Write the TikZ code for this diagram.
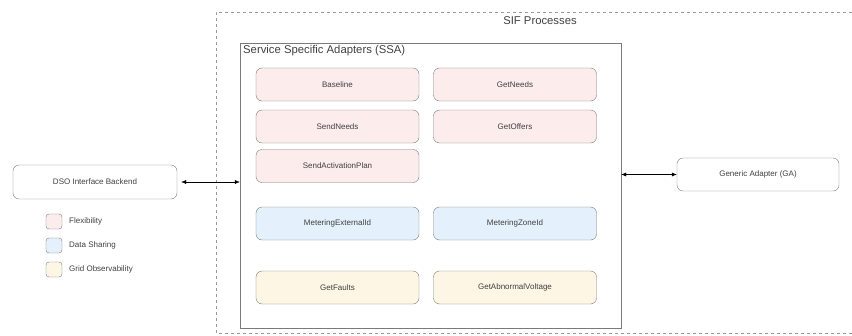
\documentclass[tikz,border=0pt]{standalone}
\usepackage{fontspec}
\setmainfont{Liberation Sans}
\usepackage{tikz}
\usetikzlibrary{positioning, calc}
\usetikzlibrary{arrows.meta}
\definecolor{fxfill}{HTML}{FDECEC}
\definecolor{dsfill}{HTML}{E4F0FB}
\definecolor{gofill}{HTML}{FDF6E4}
\definecolor{lnGray}{HTML}{7A7A7A}
\definecolor{txGray}{HTML}{404040}

\begin{document}
\begin{tikzpicture}[x=1pt,y=-1pt,draw=lnGray,text=txGray]
	\def \colleft{337.5}
	\def \colright{515}
	\def \rowone{84.5}
	\def \rowtwo{126.5}
	\def \rowthree{166}
	\def \rowfour{223.5}
	\def \rowfive{287.5}
	\tikzstyle{ad-node}=[rounded corners=6pt,draw=lnGray,thin,minimum width=163pt,minimum height=33pt,font=\fontsize{8}{9}\selectfont,text centered]
	\tikzstyle{fx-node}=[ad-node,fill=fxfill]
	\tikzstyle{ds-node}=[ad-node,fill=dsfill]
	\tikzstyle{go-node}=[ad-node,fill=gofill]
	\tikzstyle{ext-node}=[ad-node,minimum width=164pt,minimum height=34pt]
	\tikzstyle{lgd-box}=[rounded corners=3pt,draw=lnGray,thin,minimum width=16pt,minimum height=15pt,inner sep=0pt]
	\tikzstyle{lgd-lbl}=[anchor=west,font=\fontsize{8}{9}\selectfont,inner sep=0pt]
	\tikzstyle{dbl-arr}=[{Latex[length=5pt,width=4pt]}-{Latex[length=5pt,width=4pt]},black,thin]
	\useasboundingbox (0,0) rectangle (852,335);

	% process boundary
	\draw[dashed,draw=gray!80,thin] (900,12) -- (216,12) -- (216,333) -- (900,333);
	\node[font=\fontsize{11.3}{13}\selectfont] (sifl) at (540,21) {SIF Processes};

	% adapter container
	\node[draw=lnGray,thin,minimum width=381pt,minimum height=285pt,inner sep=0pt] (ssa) at (430.5,185.5) {};
	\node[anchor=north west,inner sep=0pt,font=\fontsize{11.3}{13}\selectfont] (ssal) at (243,45) {Service Specific Adapters (SSA)};

	% flexibility
	\node[fx-node] (ad0) at (\colleft,\rowone) {Baseline};
	\node[fx-node] (ad1) at (\colright,\rowone) {GetNeeds};
	\node[fx-node] (ad2) at (\colleft,\rowtwo) {SendNeeds};
	\node[fx-node] (ad3) at (\colright,\rowtwo) {GetOffers};
	\node[fx-node] (ad4) at (\colleft,\rowthree) {SendActivationPlan};

	% data sharing
	\node[ds-node] (ad5) at (\colleft,\rowfour) {MeteringExternalId};
	\node[ds-node] (ad6) at (\colright,\rowfour) {MeteringZoneId};

	% grid observability
	\node[go-node] (ad7) at (\colleft,\rowfive) {GetFaults};
	\node[go-node] (ad8) at (\colright,\rowfive) {GetAbnormalVoltage};

	% external systems
	\node[ext-node] (dso) at (95,182) {DSO Interface Backend};
	\node[ext-node,minimum width=162pt,minimum height=33pt] (ga) at (758,174.5) {Generic Adapter (GA)};

	% legend
	\node[lgd-box,fill=fxfill] (lg0) at (54,221.5) {};
	\node[lgd-box,fill=dsfill] (lg1) at (54,245.5) {};
	\node[lgd-box,fill=gofill] (lg2) at (54,269.5) {};
	\node[lgd-lbl] (lgl0) at (69,221.5) {Flexibility};
	\node[lgd-lbl] (lgl1) at (69,245.5) {Data Sharing};
	\node[lgd-lbl] (lgl2) at (69,269.5) {Grid Observability};

	\draw[dbl-arr] ([xshift=4pt]dso.east) -- (dso.east -| ssa.west);
	\draw[dbl-arr] (ga.west -| ssa.east) -- (ga.west);
\end{tikzpicture}
\end{document}
